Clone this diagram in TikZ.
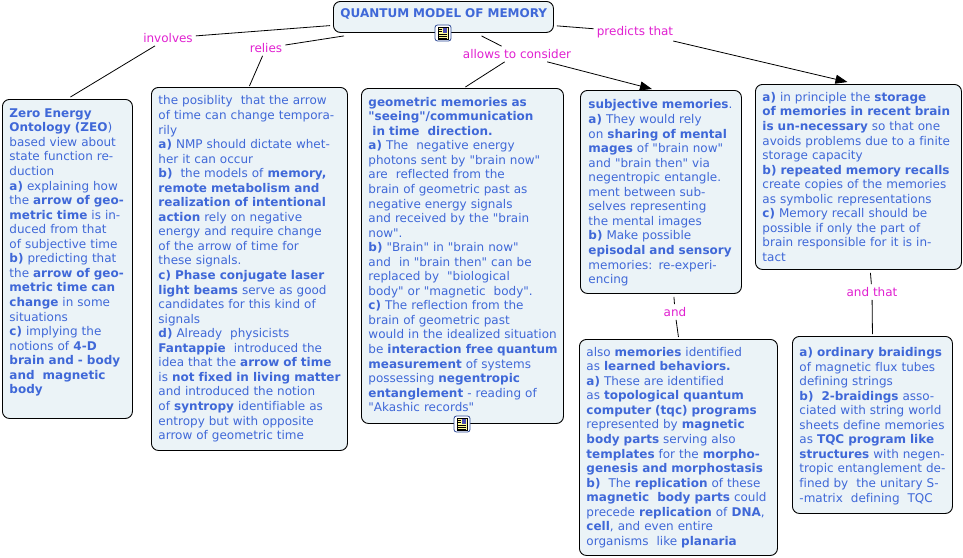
\documentclass[tikz,border=0pt]{standalone}
\usepackage{fontspec}
\setmainfont{DejaVu Sans}[Ligatures={TeXOff,CommonOff}]
\usetikzlibrary{arrows.meta}
\definecolor{txt}{HTML}{3F68D8}
\definecolor{boxfill}{HTML}{EBF3F7}
\definecolor{lbl}{HTML}{E020D0}
\newcommand{\B}[1]{\textbf{#1}}
\newcommand{\Cont}[1][7pt]{\leftskip#1\rightskip-40pt plus 1fil\relax}
\tikzset{
  x=1pt,y=-1pt,
  concept/.style={draw=black,line width=0.9pt,rounded corners=7pt,fill=boxfill,text=txt,anchor=north west,inner sep=0pt,align=left,font=\fontsize{12}{14.55}\selectfont},
  linklabel/.style={text=lbl,font=\fontsize{12}{14}\selectfont,inner sep=3pt,anchor=center},
  link/.style={draw=black,line width=0.8pt},
  tiplink/.style={link,-{Triangle[length=12pt,width=9pt]}},
  docicon/.style={draw=txt!70!black,line width=0.8pt,fill=white,rounded corners=2.5pt,minimum size=16pt,inner sep=0pt},
}
\newcommand{\docmark}[1]{%
  \fill[yellow!40!white] ([shift={(-5,-6)}]#1.center) rectangle ([shift={(5,6)}]#1.center);
  \draw[black,line width=0.4pt] ([shift={(-5,-6)}]#1.center) rectangle ([shift={(5,6)}]#1.center);
  \fill[blue!40!gray] ([shift={(0,-5)}]#1.center) rectangle ([shift={(4,0)}]#1.center);
  \draw[black,line width=0.5pt] ([shift={(-4,-4)}]#1.center) -- ([shift={(-1,-4)}]#1.center);
  \draw[black,line width=0.5pt] ([shift={(-4,-1.5)}]#1.center) -- ([shift={(-1,-1.5)}]#1.center);
  \draw[black,line width=0.5pt] ([shift={(-4,1)}]#1.center) -- ([shift={(4,1)}]#1.center);
  \draw[black,line width=0.5pt] ([shift={(-4,3)}]#1.center) -- ([shift={(4,3)}]#1.center);
  \draw[black,line width=0.5pt] ([shift={(-4,5)}]#1.center) -- ([shift={(4,5)}]#1.center);
}
\begin{document}
\begin{tikzpicture}
\useasboundingbox (0,0) rectangle (963,557);
\node[concept,minimum width=220pt,minimum height=31pt,text width=220pt] (main) at (333,1) {\hspace*{7pt}\B{QUANTUM MODEL OF MEMORY}\par\vspace*{6pt}};
\node[concept,text width=130pt,minimum height=319pt] (zeo) at (2,99) {\Cont
\B{Zero Energy}\\
\B{Ontology (ZEO})\\
based view about\\
state function re-\\
duction\\
\B{a)} explaining how\\
the \B{arrow of geo-}\\
\B{metric time} is in-\\
duced from that\\
of subjective time\\
\B{b)} predicting that\\
the \B{arrow of geo-}\\
\B{metric time can}\\
\B{change} in some\\
situations\\
\B{c)} implying the\\
notions of \B{4-D}\\
\B{brain and - body}\\
\B{and~ magnetic}\\
\B{body}\par\vspace*{13pt}};
\node[concept,text width=196pt,minimum height=363pt] (poss) at (151,87) {\Cont
the posiblity~ that the arrow\\
of time can change tempora-\\
rily\\
\B{a)} NMP should dictate whet-\\
her it can occur\\
\B{b)}~ the models of \B{memory,}\\
\B{remote metabolism and}\\
\B{realization of intentional}\\
\B{action} rely on negative\\
energy and require change\\
of the arrow of time for\\
these signals.\\
\B{c) Phase conjugate laser}\\
\B{light beams} serve as good\\
candidates for this kind of\\
signals\\
\B{d)} Already~ physicists\\
\B{Fantappie}~ introduced the\\
idea that the \B{arrow of time}\\
is \B{not fixed in living matter}\\
and introduced the notion\\
of \B{syntropy} identifiable as\\
entropy but with opposite\\
arrow of geometric time\par};
\node[concept,text width=202pt,minimum height=335pt] (geom) at (361,88) {\Cont
\B{geometric memories as}\\
\B{"seeing"/communication}\\
\B{~in time~ direction.}\\
\B{a)} The~ negative energy\\
photons sent by "brain now"\\
are~ reflected from the\\
brain of geometric past as\\
negative energy signals\\
and received by the "brain\\
now".\\
\B{b)} "Brain" in "brain now"\\
and~ in "brain then" can be\\
replaced by~ "biological\\
body" or "magnetic~ body".\\
\B{c)} The reflection from the\\
brain of geometric past\\
would in the idealized situation\\
be \B{interaction free quantum}\\
\B{measurement} of systems\\
possessing \B{negentropic}\\
\B{entanglement} - reading of\\
"Akashic records"\par\vspace*{3pt}};
\node[concept,text width=161pt,minimum height=203pt] (subj) at (580,90) {\Cont[8pt]%
\B{subjective memories}.\\
\B{a)} They would rely\\
on \B{sharing of mental}\\
\B{mages} of "brain now"\\
and "brain then" via\\
negentropic entangle.\\
ment between sub-\\
selves representing\\
the mental images\\
\B{b)} Make possible\\
\B{episodal and sensory}\\
memories: re-experi-\\
encing\par\vspace*{-2pt}};
\node[concept,text width=198pt,minimum height=216pt] (learn) at (579,339) {\Cont
also \B{memories} identified\\
as \B{learned behaviors.}\\
\B{a)} These are identified\\
as \B{topological quantum}\\
\B{computer (tqc) programs}\\
represented by \B{magnetic}\\
\B{body parts} serving also\\
\B{templates} for the \B{morpho-}\\
\B{genesis and morphostasis}\\
\B{b)}~ The \B{replication} of these\\
\B{magnetic~ body parts} could\\
precede \B{replication} of \B{DNA},\\
\B{cell}, and even entire\\
organisms~ like \B{planaria}\par};
\node[concept,text width=206pt,minimum height=185pt] (pred) at (755,84) {\Cont
\B{a)} in principle the \B{storage}\\
\B{of memories in recent brain}\\
\B{is un-necessary} so that one\\
avoids problems due to a finite\\
storage capacity\\
\B{b) repeated memory recalls}\\
create copies of the memories\\
as symbolic representations\\
\B{c)} Memory recall should be\\
possible if only the part of\\
brain responsible for it is in-\\
tact\par};
\node[concept,text width=160pt,minimum height=177pt] (braid) at (792,336) {\Cont
\B{a) ordinary braidings}\\
of magnetic flux tubes\\
defining strings\\
\B{b)~ 2-braidings} asso-\\
ciated with string world\\
sheets define memories\\
as \B{TQC program like}\\
\B{structures} with negen-\\
tropic entanglement de-\\
fined by~ the unitary S-\\
-matrix~ defining~ TQC\par\vspace*{-2pt}};
\node[linklabel] (involves) at (168,38) {involves};
\node[linklabel] (relies) at (266,48) {relies};
\node[linklabel] (allows) at (517,54) {allows to consider};
\node[linklabel] (predicts) at (635,32) {predicts that};
\node[linklabel] (and) at (675,312) {and};
\node[linklabel] (andthat) at (872,292) {and that};
\draw[link,shorten <=3pt] (main) -- (involves);
\draw[link] (involves) -- ([xshift=3pt,yshift=2pt]zeo.north);
\draw[link] ([xshift=11pt,yshift=-3pt]main.south west) -- (relies);
\draw[link] (relies) -- ([yshift=1pt]poss.north);
\draw[link] ([xshift=38pt,yshift=-3pt]main.south) -- (allows);
\draw[link] (allows) -- ([xshift=3pt,yshift=1pt]geom.north);
\draw[tiplink] (allows) -- ([xshift=-9pt,yshift=1pt]subj.north);
\draw[link,shorten <=3pt] (main) -- (predicts);
\draw[tiplink] (predicts) -- ([xshift=-11pt,yshift=2pt]pred.north);
\draw[link] ([xshift=13pt,yshift=-3pt]subj.south) -- (and);
\draw[link] (and) -- ([xshift=0pt,yshift=2pt]learn.north);
\draw[link] ([xshift=12pt,yshift=-3pt]pred.south) -- (andthat);
\draw[link] (andthat) -- ([yshift=2pt]braid.north);
\node[docicon] (icona) at (443,33) {};
\docmark{icona}
\node[docicon] (iconb) at (462,424) {};
\docmark{iconb}
\end{tikzpicture}
\end{document}
